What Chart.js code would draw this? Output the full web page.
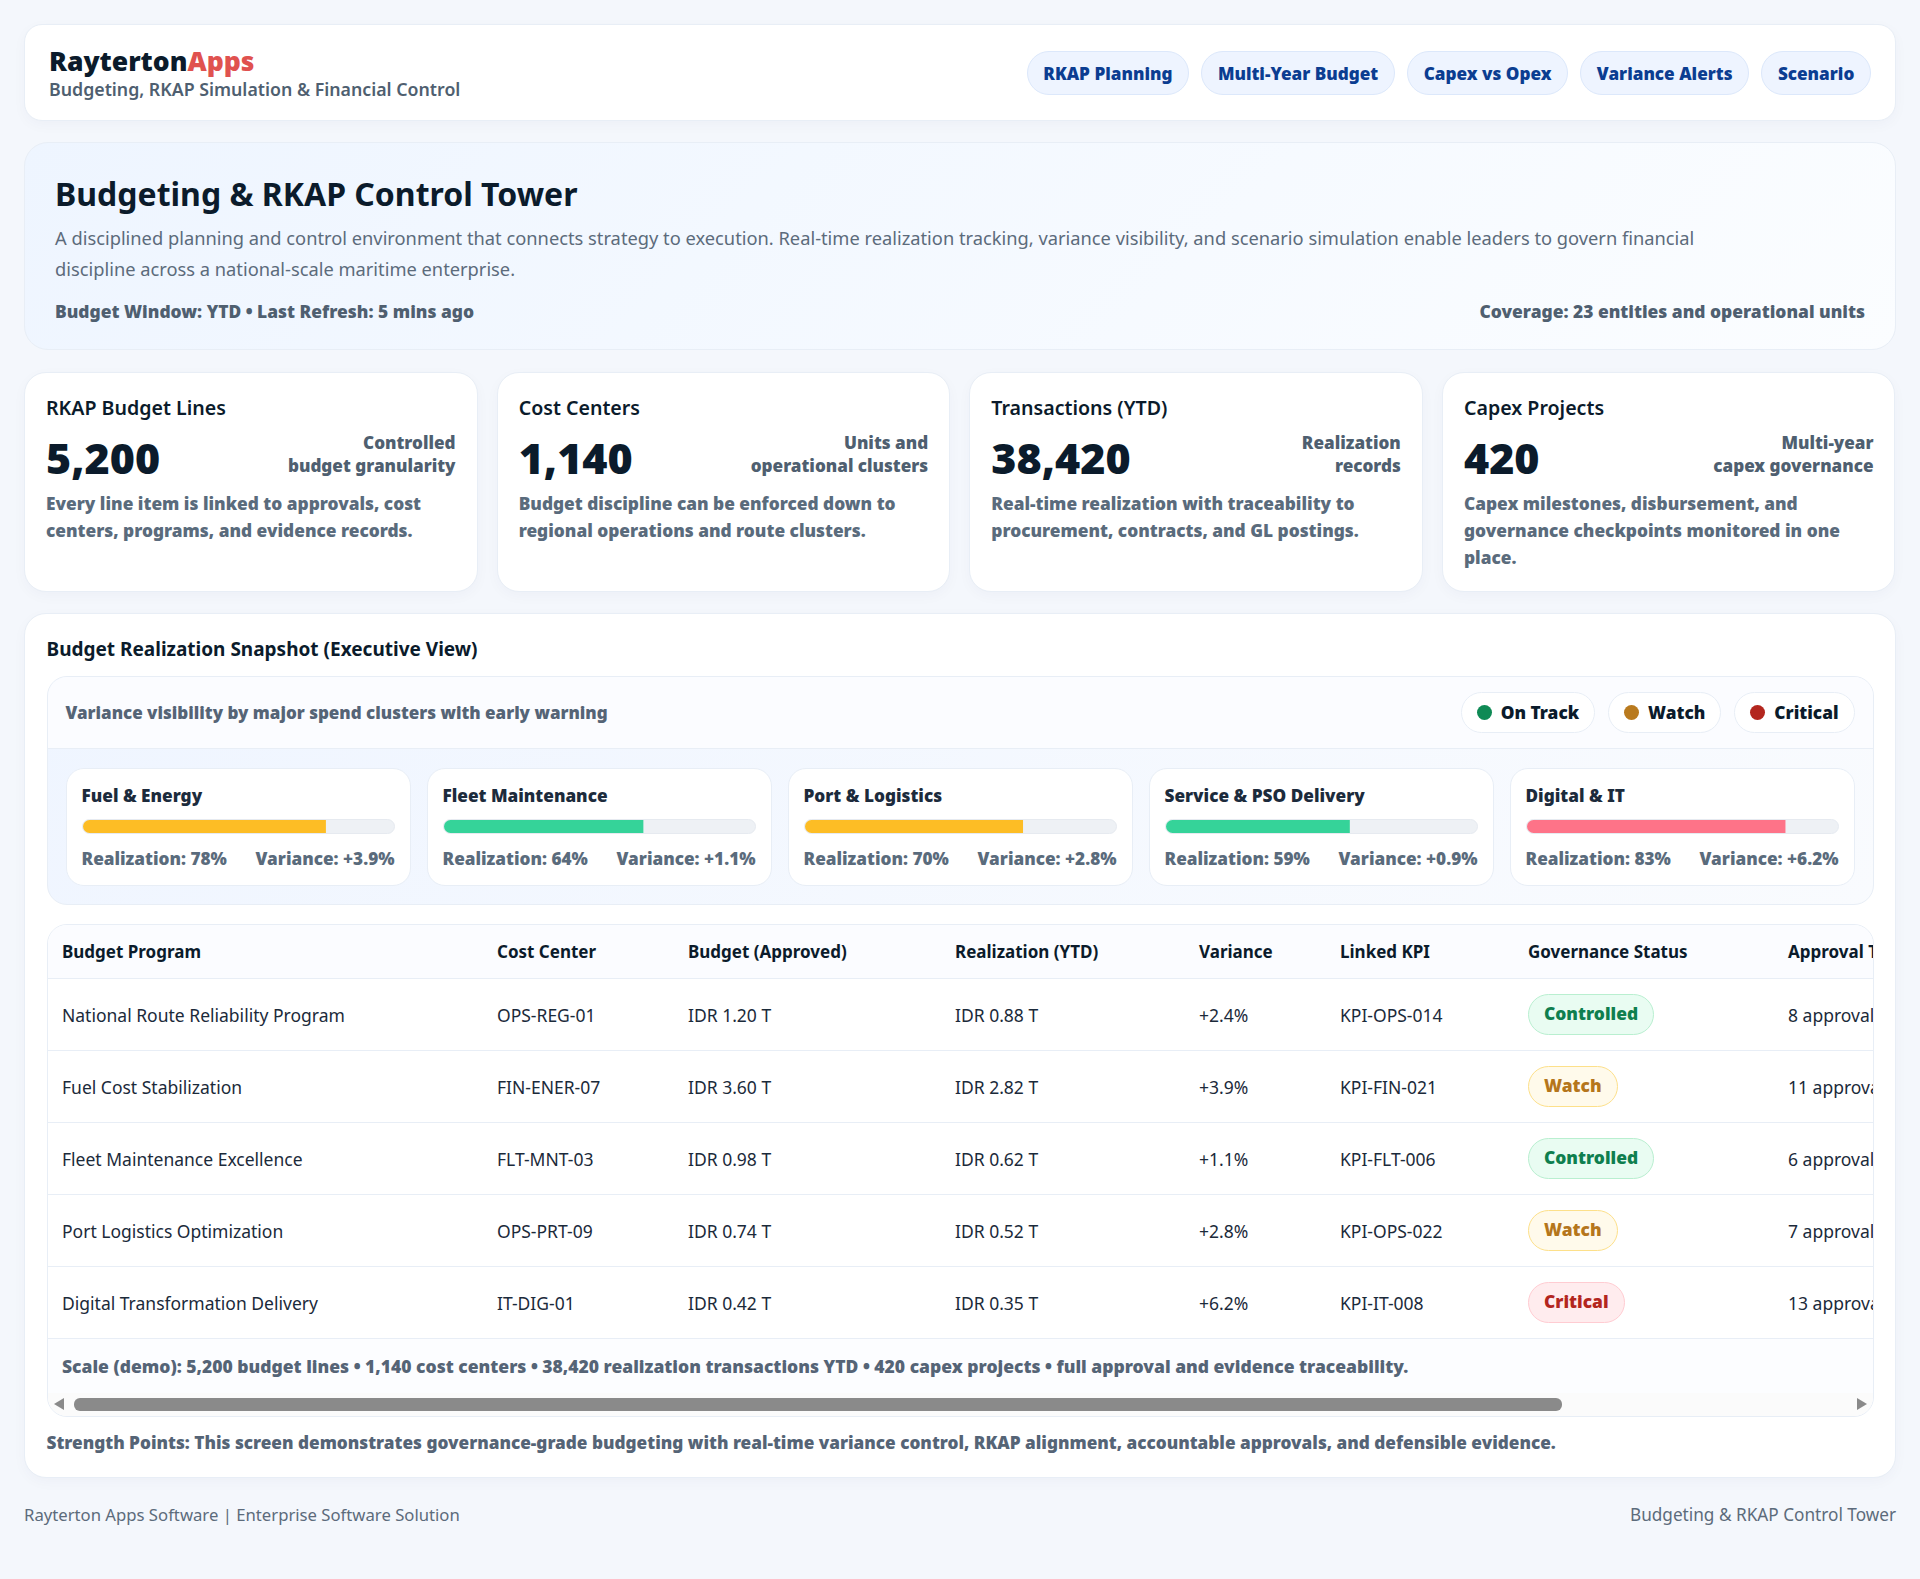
<!DOCTYPE html>
<html lang="en">
<head>
<meta charset="utf-8">
<title>Budgeting & RKAP Control Tower</title>
<script src="https://cdn.jsdelivr.net/npm/chart.js@4"></script>
<style>
* { box-sizing: border-box; }
html, body { margin: 0; padding: 0; }
body { background: #f4f7fc; font-family: "Noto Sans", sans-serif; color: #0b1b2b; padding: 24px; height: 1579px; overflow: hidden; }
.card { background: #fff; border: 1px solid #e8eef6; box-shadow: 0 4px 14px rgba(20,40,80,.03); }
.topbar { height: 97px; border-radius: 18px; display: flex; justify-content: space-between; align-items: center; padding: 1px 24px 0; }
.brand { font-size: 26.5px; font-weight: 900; line-height: 32px; }
.brand span { color: #e0524f; }
.sub { font-size: 17.75px; font-weight: 600; color: #4f5f70; line-height: 24px; }
.pills { display: flex; gap: 12px; }
.pill { height: 44px; line-height: 43px; padding: 0 15.7px; border-radius: 22px; background: #eef4ff; border: 1px solid #dce8fb; color: #0b3d91; font-size: 17.15px; font-weight: 900; }
.hero { margin-top: 21px; height: 208px; border-radius: 24px; background: linear-gradient(135deg, #eef5ff, #fbfdff); border: 1px solid #e8eef6; padding: 31px 30px 0; }
.hero h1 { margin: 0; font-size: 32px; line-height: 40px; font-weight: 700; }
.hero p { margin: 9px 0 0; font-size: 18.3px; line-height: 30.6px; color: #5c6b7b; width: 1720px; }
.meta { display: flex; justify-content: space-between; margin-top: 15px; font-size: 17.4px; font-weight: 900; color: #4f5f70; line-height: 24px; }
.kpis { margin-top: 22px; display: grid; grid-template-columns: repeat(4, 453.5px); gap: 19.17px; }
.kpi { height: 219.5px; border-radius: 22px; padding: 21px; }
.kpi h3 { margin: 0; font-size: 19.6px; font-weight: 600; line-height: 28px; }
.kpi .row { display: flex; justify-content: space-between; align-items: flex-start; margin-top: 8px; height: 56px; }
.kpi .val { font-size: 43px; font-weight: 900; line-height: 56px; }
.kpi .note { font-size: 17.1px; font-weight: 900; color: #4f5f70; line-height: 23.4px; text-align: right; margin-top: 1px; }
.kpi .desc { margin-top: 4px; font-size: 17.3px; font-weight: 900; color: #5a6b7c; line-height: 27px; }
.panel { margin-top: 21px; height: 865px; border-radius: 22px; padding: 0 21.5px; position: relative; }
.panel h2 { margin: 0; padding-top: 21px; font-size: 19px; font-weight: 700; line-height: 28px; height: 62px; }
.snap { border: 1px solid #e8eef6; border-radius: 20px; height: 229px; overflow: hidden; background: linear-gradient(135deg, #eff5ff, #f9fbfe); }
.snaphead { height: 72px; background: #fbfcff; border-bottom: 1px solid #e8eef6; display: flex; justify-content: space-between; align-items: center; padding: 0 18px; }
.snaphead b { font-size: 17px; font-weight: 900; color: #556476; }
.legend { display: flex; gap: 13px; }
.legend div { height: 41px; border: 1px solid #e8eef6; border-radius: 21px; background: #fff; padding: 0 15px; display: flex; align-items: center; gap: 9px; font-size: 17.3px; font-weight: 900; }
.legend i { width: 15px; height: 15px; border-radius: 50%; display: block; }
.clusters { display: grid; grid-template-columns: repeat(5, 345px); gap: 16px; padding: 19px 18px 0; }
.cluster { height: 118px; background: #fff; border: 1px solid #e8eef6; border-radius: 18px; padding: 15px; }
.cluster h4 { margin: 0; font-size: 17.2px; font-weight: 900; line-height: 24px; color: #1c2b3c; }
.track { margin-top: 11px; height: 15px; border-radius: 8px; overflow: hidden; background: #eef1f5; border: 1px solid #e6eaf0; position: relative; }
.track canvas { position: absolute; left: 0; top: 0; }
.cluster .nums { margin-top: 13px; display: flex; justify-content: space-between; font-size: 17.2px; font-weight: 900; color: #5a6b7c; line-height: 24px; white-space: nowrap; }
.tablewrap { margin-top: 19px; border: 1px solid #e8eef6; border-radius: 20px; height: 493px; overflow: hidden; position: relative; }
table { border-collapse: collapse; width: 2200px; table-layout: fixed; }
th { height: 54px; background: #fbfcff; font-size: 17px; font-weight: 700; text-align: left; padding: 0 15px 0 14.5px; border-bottom: 1px solid #e8eef6; white-space: nowrap; }
td { height: 72px; font-size: 17.5px; padding: 0 15px 0 14.5px; border-bottom: 1px solid #e8eef6; white-space: nowrap; color: #1b2a3a; }
.badge { display: inline-block; height: 41px; line-height: 37px; padding: 0 15px; border-radius: 21px; border: 1px solid; font-size: 17.4px; font-weight: 900; }
.Controlled { background: #e9fcf2; border-color: #b9efd0; color: #0f7f4f; }
.Watch { background: #fffaeb; border-color: #fde08a; color: #b5761c; }
.Critical { background: #ffecee; border-color: #ffccd2; color: #b3261e; }
.scale { height: 55px; line-height: 54px; background: #fcfdff; font-size: 17.5px; font-weight: 900; color: #556476; padding-left: 14.5px; white-space: nowrap; }
.sbar { position: absolute; left: 0; right: 0; bottom: 0; height: 23px; background: #fbfbfb; }
.sbar .thumb { position: absolute; left: 26px; width: 1488px; top: 5px; height: 13px; border-radius: 6px; background: #8a8a8a; }
.sbar .prev, .sbar .next { position: absolute; top: 5px; width: 0; height: 0; border-top: 6.5px solid transparent; border-bottom: 6.5px solid transparent; }
.sbar .prev { left: 6px; border-right: 10px solid #8a8a8a; }
.sbar .next { right: 6px; border-left: 10px solid #8a8a8a; }
.strength { margin-top: 14px; font-size: 17.2px; font-weight: 900; color: #556476; line-height: 24px; white-space: nowrap; }
footer { margin-top: 25px; display: flex; justify-content: space-between; font-size: 16.7px; color: #5c6b7b; line-height: 24px; }
footer span:last-child { font-size: 17.2px; }
</style>
</head>
<body>
<div class="card topbar">
  <div><div class="brand">Rayterton<span>Apps</span></div><div class="sub">Budgeting, RKAP Simulation &amp; Financial Control</div></div>
  <div class="pills" id="pills"></div>
</div>
<div class="hero">
  <h1>Budgeting &amp; RKAP Control Tower</h1>
  <p>A disciplined planning and control environment that connects strategy to execution. Real-time realization tracking, variance visibility, and scenario simulation enable leaders to govern financial discipline across a national-scale maritime enterprise.</p>
  <div class="meta"><span>Budget Window: YTD • Last Refresh: 5 mins ago</span><span>Coverage: 23 entities and operational units</span></div>
</div>
<div class="kpis" id="kpis"></div>
<div class="card panel">
  <h2>Budget Realization Snapshot (Executive View)</h2>
  <div class="snap">
    <div class="snaphead"><b>Variance visibility by major spend clusters with early warning</b><div class="legend" id="legend"></div></div>
    <div class="clusters" id="clusters"></div>
  </div>
  <div class="tablewrap">
    <table id="tbl"></table>
    <div class="scale">Scale (demo): 5,200 budget lines • 1,140 cost centers • 38,420 realization transactions YTD • 420 capex projects • full approval and evidence traceability.</div>
    <div class="sbar"><div class="prev"></div><div class="thumb"></div><div class="next"></div></div>
  </div>
  <div class="strength">Strength Points: This screen demonstrates governance-grade budgeting with real-time variance control, RKAP alignment, accountable approvals, and defensible evidence.</div>
</div>
<footer><span>Rayterton Apps Software | Enterprise Software Solution</span><span>Budgeting &amp; RKAP Control Tower</span></footer>

<script>
const navItems = ['RKAP Planning', 'Multi-Year Budget', 'Capex vs Opex', 'Variance Alerts', 'Scenario'];

const kpiTitles = ['RKAP Budget Lines', 'Cost Centers', 'Transactions (YTD)', 'Capex Projects'];
const kpiValues = ['5,200', '1,140', '38,420', '420'];
const kpiNotes = ['Controlled<br>budget granularity', 'Units and<br>operational clusters', 'Realization<br>records', 'Multi-year<br>capex governance'];
const kpiDescs = [
    'Every line item is linked to approvals, cost centers, programs, and evidence records.',
    'Budget discipline can be enforced down to regional operations and route clusters.',
    'Real-time realization with traceability to procurement, contracts, and GL postings.',
    'Capex milestones, disbursement, and governance checkpoints monitored in one place.'
];

const legendLabels = ['On Track', 'Watch', 'Critical'];
const legendColors = ['#0f8a55', '#b97a1e', '#b3261e'];

// Clusters de gasto (barras)
const clusterNames = ['Fuel & Energy', 'Fleet Maintenance', 'Port & Logistics', 'Service & PSO Delivery', 'Digital & IT'];
const clusterRealization = [78, 64, 70, 59, 83];
const clusterVariance = ['+3.9%', '+1.1%', '+2.8%', '+0.9%', '+6.2%'];
const clusterColors = ['#fdbd25', '#35d399', '#fdbd25', '#35d399', '#fe7388'];

const tableHeaders = ['Budget Program', 'Cost Center', 'Budget (Approved)', 'Realization (YTD)', 'Variance', 'Linked KPI', 'Governance Status', 'Approval Trail'];
const columnWidths = [435, 191, 267, 244, 141, 188, 260, 474];
const programs = ['National Route Reliability Program', 'Fuel Cost Stabilization', 'Fleet Maintenance Excellence', 'Port Logistics Optimization', 'Digital Transformation Delivery'];
const costCenters = ['OPS-REG-01', 'FIN-ENER-07', 'FLT-MNT-03', 'OPS-PRT-09', 'IT-DIG-01'];
const budgets = ['IDR 1.20 T', 'IDR 3.60 T', 'IDR 0.98 T', 'IDR 0.74 T', 'IDR 0.42 T'];
const realizations = ['IDR 0.88 T', 'IDR 2.82 T', 'IDR 0.62 T', 'IDR 0.52 T', 'IDR 0.35 T'];
const variances = ['+2.4%', '+3.9%', '+1.1%', '+2.8%', '+6.2%'];
const linkedKpis = ['KPI-OPS-014', 'KPI-FIN-021', 'KPI-FLT-006', 'KPI-OPS-022', 'KPI-IT-008'];
const statuses = ['Controlled', 'Watch', 'Controlled', 'Watch', 'Critical'];
const approvals = ['8 approvals', '11 approvals', '6 approvals', '7 approvals', '13 approvals'];

document.getElementById('pills').innerHTML = navItems.map(n => `<div class="pill">${n}</div>`).join('');

document.getElementById('kpis').innerHTML = kpiTitles.map((t, i) => `
  <div class="card kpi"><h3>${t}</h3>
    <div class="row"><div class="val">${kpiValues[i]}</div><div class="note">${kpiNotes[i]}</div></div>
    <div class="desc">${kpiDescs[i]}</div></div>`).join('');

document.getElementById('legend').innerHTML = legendLabels.map((l, i) => `<div><i style="background:${legendColors[i]}"></i>${l}</div>`).join('');

document.getElementById('clusters').innerHTML = clusterNames.map((n, i) => `
  <div class="cluster"><h4>${n.replace('&', '&amp;')}</h4>
    <div class="track"><canvas id="bar${i}"></canvas></div>
    <div class="nums"><span>Realization: ${clusterRealization[i]}%</span><span>Variance: ${clusterVariance[i]}</span></div></div>`).join('');

const colgroup = '<colgroup>' + columnWidths.map(w => `<col style="width:${w}px">`).join('') + '</colgroup>';
const head = '<tr>' + tableHeaders.map(h => `<th>${h}</th>`).join('') + '</tr>';
const rows = programs.map((p, i) => `<tr><td>${p}</td><td>${costCenters[i]}</td><td>${budgets[i]}</td><td>${realizations[i]}</td><td>${variances[i]}</td><td>${linkedKpis[i]}</td><td><span class="badge ${statuses[i]}">${statuses[i]}</span></td><td>${approvals[i]}</td></tr>`).join('');
document.getElementById('tbl').innerHTML = colgroup + '<thead>' + head + '</thead><tbody>' + rows + '</tbody>';

clusterNames.forEach(function(name, i) {
    const canvas = document.getElementById('bar' + i);
    new Chart(canvas.getContext('2d'), {
        type: 'bar',
        data: {
            labels: [name],
            datasets: [{
                label: 'Realization',
                data: [clusterRealization[i]],
                backgroundColor: clusterColors[i],
                borderWidth: 0,
                barPercentage: 1,
                categoryPercentage: 1
            }]
        },
        options: {
            indexAxis: 'y',
            responsive: true,
            maintainAspectRatio: false,
            animation: false,
            layout: { padding: 0 },
            plugins: { legend: { display: false }, tooltip: { enabled: false } },
            scales: {
                x: { display: false, min: 0, max: 100 },
                y: { display: false }
            }
        }
    });
});
</script>
</body>
</html>
